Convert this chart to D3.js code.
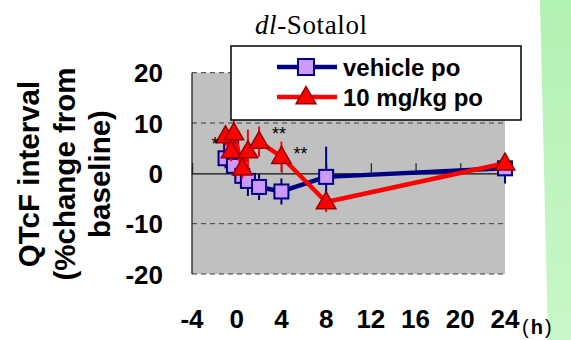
<!DOCTYPE html>
<html lang="en">
	<head>
		<meta charset="utf-8">
		<title>dl-Sotalol QTcF</title>
		<script src="https://d3js.org/d3.v7.min.js"></script>
		<style type="text/css">
			body { margin: 0; background: #fff; }
			svg { display: block; }
		</style>
	</head>
	<body>
		<svg id="qtcf" width="571" height="340"></svg>
	</body>
<script type="text/javascript">
  //Data
  var times = [-1, -0.5, -0.25, 0.5, 1, 2, 4, 8, 24];
  var vehicleMean = [3.0, 5.0, 1.5, -0.5, -1.5, -2.7, -3.6, -0.7, 1.0];
  var vehicleErr  = [2.0, 2.0, 2.0, 2.5, 3.0, 2.6, 2.6, 6.0, 3.0];
  var doseMean = [7.4, 4.4, 8.0, 1.0, 4.4, 6.3, 3.3, -5.7, 2.0];
  var doseErr  = [2.0, 2.0, 2.5, 2.0, 4.3, 3.0, 3.0, 2.0, 1.5];
  var xTicks = [-4, 0, 4, 8, 12, 16, 20, 24];
  var yTicks = [20, 10, 0, -10, -20];
  var seriesNames = ["vehicle po", "10 mg/kg po"];
  var starTimes = [-1, 2, 4];
  var starLabels = ["*", "**", "**"];

  createChart("#qtcf");

  function createChart(chartID) {
    var svg = d3.select(chartID);
    var bold = "'Liberation Sans', Arial, sans-serif";

    //green band on the right edge
    var grad = svg.append("defs").append("linearGradient")
        .attr("id", "greenBand").attr("x1", 0).attr("y1", 0).attr("x2", 0).attr("y2", 1);
    grad.append("stop").attr("offset", "0%").attr("stop-color", "#b2f2b2");
    grad.append("stop").attr("offset", "100%").attr("stop-color", "#c9f7c9");
    svg.append("path")
       .attr("d", "M540,0 L571,0 L571,340 L548,340 Z")
       .attr("fill", "url(#greenBand)");

    var xScale = d3.scaleLinear().domain([-4, 24]).range([192, 505]);
    var yScale = d3.scaleLinear().domain([-20, 20]).range([274, 72.7]);

    //plot background
    svg.append("rect")
       .attr("x", xScale(-4)).attr("y", yScale(20))
       .attr("width", xScale(24) - xScale(-4))
       .attr("height", yScale(-20) - yScale(20))
       .attr("fill", "#c0c0c0");

    //dashed gridlines
    svg.selectAll("line.grid")
       .data(yTicks.filter(function(d) { return d !== 0; }))
       .enter().append("line")
       .attr("class", "grid")
       .attr("x1", xScale(-4)).attr("x2", xScale(24))
       .attr("y1", function(d) { return yScale(d); })
       .attr("y2", function(d) { return yScale(d); })
       .attr("stroke", "#3a3a3a").attr("stroke-width", 1)
       .attr("stroke-dasharray", "5,4");

    //left axis line
    svg.append("line")
       .attr("x1", xScale(-4)).attr("x2", xScale(-4))
       .attr("y1", yScale(20)).attr("y2", yScale(-20))
       .attr("stroke", "#222").attr("stroke-width", 1.3);

    //x axis along zero, ticks pointing up
    var xAxis = d3.axisTop(xScale).tickValues(xTicks).tickSize(10).tickFormat("");
    var xg = svg.append("g")
       .attr("transform", "translate(0," + yScale(0) + ")")
       .call(xAxis);
    xg.select(".domain").attr("stroke", "#111").attr("stroke-width", 1.2);
    xg.selectAll(".tick line").attr("stroke", "#222").attr("stroke-width", 1.2);

    //y tick labels
    svg.selectAll("text.ytick")
       .data(yTicks).enter().append("text")
       .attr("class", "ytick")
       .attr("x", 163)
       .attr("y", function(d) { return yScale(d) + 9.5; })
       .attr("text-anchor", "end")
       .attr("font-family", bold).attr("font-weight", "bold")
       .attr("font-size", "26px")
       .text(function(d) { return d; });

    //x tick labels, set low under the plot
    svg.selectAll("text.xtick")
       .data(xTicks).enter().append("text")
       .attr("class", "xtick")
       .attr("x", function(d) { return xScale(d); })
       .attr("y", 328)
       .attr("text-anchor", "middle")
       .attr("font-family", bold).attr("font-weight", "bold")
       .attr("font-size", "26px")
       .text(function(d) { return d; });

    //unit
    var unit = svg.append("text")
       .attr("x", 522).attr("y", 334)
       .attr("font-family", bold)
       .attr("font-size", "20px");
    unit.append("tspan").text("(");
    unit.append("tspan").attr("dx", 2).attr("font-weight", "bold").text("h");
    unit.append("tspan").attr("dx", 2).text(")");

    //y axis title
    var yTitle = ["QTcF interval", "(%change from", "baseline)"];
    var yBase = [39, 74.5, 110];
    svg.selectAll("text.ytitle")
       .data(yTitle).enter().append("text")
       .attr("class", "ytitle")
       .attr("transform", function(d, i) { return "translate(" + yBase[i] + ",174) rotate(-90)"; })
       .attr("text-anchor", "middle")
       .attr("font-family", bold).attr("font-weight", "bold")
       .attr("font-size", "29.5px")
       .text(function(d) { return d; });

    //chart title
    var title = svg.append("text")
       .attr("x", 255).attr("y", 34)
       .attr("font-family", "'Liberation Serif', 'Times New Roman', serif")
       .attr("font-size", "27px")
       .attr("textLength", 112).attr("lengthAdjust", "spacing");
    title.append("tspan").attr("font-style", "italic").text("dl");
    title.append("tspan").text("-Sotalol");

    var vehicle = times.map(function(t, i) { return { t: t, v: vehicleMean[i], e: vehicleErr[i] }; });
    var dosed = times.map(function(t, i) { return { t: t, v: doseMean[i], e: doseErr[i] }; });

    var line = d3.line()
       .x(function(d) { return xScale(d.t); })
       .y(function(d) { return yScale(d.v); });

    var triangle = d3.symbol().type(d3.symbolTriangle).size(165);

    function drawErrors(data, color) {
      svg.append("g").selectAll("line")
         .data(data).enter().append("line")
         .attr("x1", function(d) { return xScale(d.t); })
         .attr("x2", function(d) { return xScale(d.t); })
         .attr("y1", function(d) { return yScale(d.v + d.e); })
         .attr("y2", function(d) { return yScale(d.v - d.e); })
         .attr("stroke", color).attr("stroke-width", 2);
    }

    //vehicle series
    drawErrors(vehicle, "#000080");
    svg.append("path")
       .datum(vehicle)
       .attr("d", line)
       .attr("fill", "none")
       .attr("stroke", "#000080").attr("stroke-width", 4.5)
       .attr("stroke-linejoin", "round");
    svg.append("g").selectAll("rect")
       .data(vehicle).enter().append("rect")
       .attr("x", function(d) { return xScale(d.t) - 7; })
       .attr("y", function(d) { return yScale(d.v) - 7; })
       .attr("width", 14).attr("height", 14)
       .attr("fill", "#cc99ff")
       .attr("stroke", "#000080").attr("stroke-width", 2);

    //10 mg/kg series
    drawErrors(dosed, "#ff0000");
    svg.append("path")
       .datum(dosed)
       .attr("d", line)
       .attr("fill", "none")
       .attr("stroke", "#ff0000").attr("stroke-width", 4.5)
       .attr("stroke-linejoin", "round");
    svg.append("g").selectAll("path")
       .data(dosed).enter().append("path")
       .attr("d", triangle)
       .attr("transform", function(d) { return "translate(" + xScale(d.t) + "," + (yScale(d.v) + 1) + ")"; })
       .attr("fill", "#ff0000")
       .attr("stroke", "#990000").attr("stroke-width", 1.5);

    //significance marks
    var starOffset = [[-14, 14], [13, -2], [12, 3]];
    svg.selectAll("text.star")
       .data(starLabels).enter().append("text")
       .attr("class", "star")
       .attr("x", function(d, i) { return xScale(starTimes[i]) + starOffset[i][0]; })
       .attr("y", function(d, i) { return yScale(doseMean[times.indexOf(starTimes[i])]) + starOffset[i][1]; })
       .attr("font-family", bold)
       .attr("font-size", "18px")
       .text(function(d) { return d; });

    //legend
    var legend = svg.append("g").attr("transform", "translate(231,46)");
    legend.append("rect")
       .attr("width", 290).attr("height", 74)
       .attr("fill", "#fff")
       .attr("stroke", "#000").attr("stroke-width", 1.5);
    var colors = ["#000080", "#ff0000"];
    var rows = legend.selectAll("g.row")
       .data(seriesNames).enter().append("g")
       .attr("class", "row")
       .attr("transform", function(d, i) { return "translate(0," + (21 + i * 30) + ")"; });
    rows.append("line")
       .attr("x1", 46).attr("x2", 106)
       .attr("stroke", function(d, i) { return colors[i]; })
       .attr("stroke-width", 4.5);
    rows.filter(function(d, i) { return i === 0; })
       .append("rect")
       .attr("x", 67).attr("y", -8).attr("width", 16).attr("height", 16)
       .attr("fill", "#cc99ff")
       .attr("stroke", "#000080").attr("stroke-width", 2);
    rows.filter(function(d, i) { return i === 1; })
       .append("path")
       .attr("d", d3.symbol().type(d3.symbolTriangle).size(170))
       .attr("transform", "translate(75,1)")
       .attr("fill", "#ff0000")
       .attr("stroke", "#990000").attr("stroke-width", 1.5);
    rows.append("text")
       .attr("x", 112).attr("y", 8.5)
       .attr("font-family", bold).attr("font-weight", "bold")
       .attr("font-size", "24px")
       .text(function(d) { return d; });
  }
</script>
</html>
